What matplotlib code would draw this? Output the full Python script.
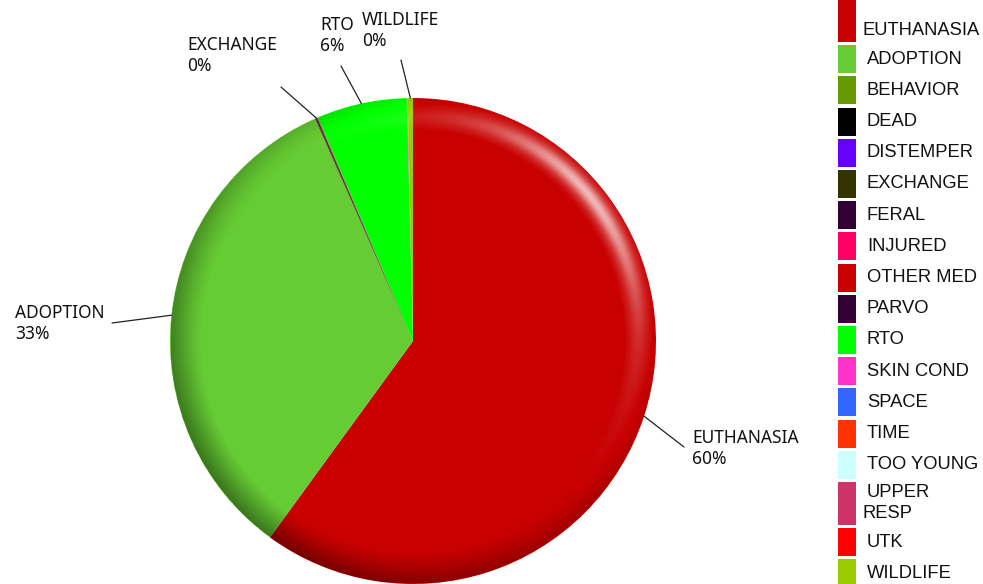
import numpy as np
import matplotlib
matplotlib.use("Agg")
import matplotlib.pyplot as plt
from matplotlib.patches import Circle, Rectangle

# data (share of outcomes, %)
categories = ["EUTHANASIA", "ADOPTION", "BEHAVIOR", "DEAD", "DISTEMPER", "EXCHANGE",
              "FERAL", "INJURED", "OTHER MED", "PARVO", "RTO", "SKIN COND", "SPACE",
              "TIME", "TOO YOUNG", "UPPER RESP", "UTK", "WILDLIFE"]
values = [60.1, 33.4, 0.03, 0.03, 0.01, 0.1, 0.01, 0.02, 0.02, 0.01, 6.0, 0.01,
          0.01, 0.01, 0.01, 0.01, 0.01, 0.35]
colors = ["#C80000", "#66CC33", "#669900", "#000000", "#6600FF", "#333300",
          "#330033", "#FF0066", "#CC0000", "#330033", "#00FF00", "#FF33CC",
          "#3366FF", "#FF3300", "#CCFFFF", "#CC3366", "#FF0000", "#99CC00"]
labelled = ["EUTHANASIA", "ADOPTION", "EXCHANGE", "RTO", "WILDLIFE"]
legend_text = ["\nEUTHANASIA", "ADOPTION", "BEHAVIOR", "DEAD", "DISTEMPER", "EXCHANGE",
               "FERAL", "INJURED", "OTHER MED", "PARVO", "RTO", "SKIN COND", "SPACE",
               "TIME", "TOO YOUNG", "UPPER\nRESP", "UTK", "WILDLIFE"]

W, H = 983, 584


def Y(py):
    return H - py


fig = plt.figure(figsize=(W / 100, H / 100), dpi=100)
ax = fig.add_axes([0, 0, 1, 1])

cx, cy, rad = 413, Y(341), 243
wedges, _ = ax.pie(values, colors=colors, startangle=90, counterclock=False,
                   center=(cx, cy), radius=rad, wedgeprops=dict(linewidth=0))

# bevel shading over the pie
n = 600
g = np.linspace(-1, 1, n)
gx, gy = np.meshgrid(g, g)
r = np.hypot(gx, gy)
phi = np.arctan2(gy, gx)
t = np.clip((r - 0.87) / 0.13, 0, 1)
th = t * np.pi / 2 * 0.9
nx, ny, nz = np.sin(th) * np.cos(phi), np.sin(th) * np.sin(phi), np.cos(th)
el, az = np.radians(45), np.radians(40)
L = np.array([np.sin(el) * np.cos(az), np.sin(el) * np.sin(az), np.cos(el)])
d = nx * L[0] + ny * L[1] + nz * L[2]
diff = d - L[2]
spec = np.clip(d, 0, 1) ** 18 * 0.55
shade = np.zeros((n, n, 4))
light = diff > 0
shade[..., :3] = np.where(light[..., None], 1.0, 0.0)
shade[..., 3] = np.where(light, np.clip(diff, 0, None) * 0.6 + spec, np.clip(-diff, 0, None) * 0.33)
shade[..., 3] = np.clip(shade[..., 3], 0, 0.85) * (r <= 1)
img = ax.imshow(shade, origin="lower", extent=(cx - rad, cx + rad, cy - rad, cy + rad),
                interpolation="bilinear", zorder=2)
clip = Circle((cx, cy), rad, transform=ax.transData)
img.set_clip_path(clip)

# pie labels with leader lines
label_font = dict(family=["Noto Sans", "DejaVu Sans"], fontsize=12.5, color="#111111")
outer_pts = {"EUTHANASIA": (684, 447), "ADOPTION": (112, 323), "EXCHANGE": (281, 87),
             "RTO": (341, 66), "WILDLIFE": (401, 60)}
text_pos = {"EUTHANASIA": (692, 429), "ADOPTION": (15, 304), "EXCHANGE": (187, 36),
            "RTO": (320, 16), "WILDLIFE": (362, 11)}
total = sum(values)
for w, name, v in zip(wedges, categories, values):
    if name not in labelled:
        continue
    mid = np.radians((w.theta1 + w.theta2) / 2)
    edge = (cx + rad * np.cos(mid), cy + rad * np.sin(mid))
    ox, oy = outer_pts[name]
    ax.annotate("", xy=edge, xytext=(ox, Y(oy)),
                arrowprops=dict(arrowstyle="-", color="#222222", lw=0.9, shrinkA=0, shrinkB=0))
    tx, ty = text_pos[name]
    ax.text(tx, Y(ty), f"{name}\n{v / total * 100:.0f}%", ha="left", va="top",
            linespacing=1.2, zorder=5, **label_font)

# legend
leg_font = dict(family=["Liberation Sans", "DejaVu Sans"], fontsize=13.2, color="#111111")
top = -1
for c, lab in zip(colors, legend_text):
    lines = lab.split("\n")
    h = 28 if len(lines) == 1 else 43
    ax.add_patch(Rectangle((838, Y(top + h)), 18, h, facecolor=c, edgecolor="none", zorder=3))
    if len(lines) == 1:
        ax.text(867, Y(top + 14), lines[0], ha="left", va="center", **leg_font)
    else:
        ax.text(867, Y(top + 10.5), lines[0], ha="left", va="center", **leg_font)
        ax.text(862, Y(top + 31.5), lines[1], ha="left", va="center", **leg_font)
    top += h + 3.2

ax.set_xlim(0, W)
ax.set_ylim(0, H)
ax.set_aspect("auto")
ax.axis("off")
fig.savefig("out.png", dpi=100)
